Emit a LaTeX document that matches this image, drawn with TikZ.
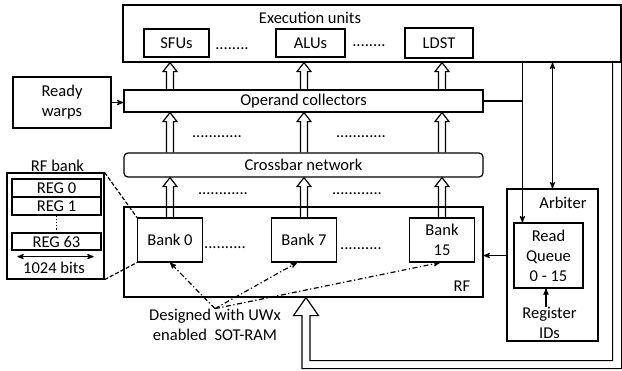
\documentclass[tikz,border=0pt]{standalone}
\usepackage{fontspec}
\setmainfont{Carlito}
\usetikzlibrary{positioning}
\usetikzlibrary{arrows}
\usetikzlibrary{calc}
\tikzset{>=stealth'}
\tikzset{blk/.style={draw, inner sep=0pt, align=center}}
\tikzset{lbl/.style={inner sep=0pt, align=center}}
\tikzset{dots/.style={inner sep=0pt, anchor=base}}
\tikzset{bnk/.style={blk, minimum width=65pt, minimum height=44pt}}
\tikzset{reg/.style={blk, minimum width=89pt, minimum height=18pt}}

% hollow upward arrow: #1 = base, #2 = tip
\newcommand{\fatup}[2]{%
  \draw ($(#1)+(-3.5,0)$) -- ($(#2)+(-3.5,9)$) -- ($(#2)+(-7,9)$) -- (#2)
    -- ($(#2)+(7,9)$) -- ($(#2)+(3.5,9)$) -- ($(#1)+(3.5,0)$);
}

\begin{document}
\begin{tikzpicture}[x=1pt, y=-1pt, on grid, line width=1.2pt, font=\fontsize{16.5}{20}\selectfont]
        \useasboundingbox (0,0) rectangle (622,370);

        \node[blk, minimum width=498pt, minimum height=57pt] (exec) at (372,33.5) {};
        \node[lbl, anchor=base] (exectitle) at (310,23) {Execution units};
        \node[blk, minimum width=65pt, minimum height=28pt] (sfu) at (176.5,43) {SFUs};
        \node[blk, minimum width=69pt, minimum height=28pt] (alu) at (310.5,43) {ALUs};
        \node[blk, minimum width=68pt, minimum height=30pt] (ldst) at (439,43) {LDST};
        \node[dots] (d1) at (232,49) {........};
        \node[dots] (d2) at (369,46) {........};

        \node[blk, minimum width=98pt, minimum height=51pt] (ready) at (62,102.5) {Ready\\warps};
        \node[blk, minimum width=359pt, minimum height=22pt] (oc) at (303.5,101) {Operand collectors};
        \node[dots] (d3) at (217,137) {............};
        \node[dots] (d4) at (361,137) {............};
        \node[blk, rounded corners=4pt, minimum width=359pt, minimum height=24pt] (xbar) at (303.5,165) {Crossbar network};
        \node[dots] (d5) at (223,194) {............};
        \node[dots] (d6) at (357,194) {............};

        \node[blk, minimum width=359pt, minimum height=90pt] (rf) at (303.5,252) {};
        \node[lbl, anchor=base] (rflbl) at (462,291) {RF};
        \node[bnk] (bank0) at (170,240) {Bank 0};
        \node[bnk, right=134pt of bank0] (bank7) {Bank 7};
        \node[bnk, right=138pt of bank7] (bank15) {Bank\\15};
        \node[dots] (d7) at (225,248) {..........};
        \node[dots] (d8) at (361,249) {..........};

        \node[blk, minimum width=91pt, minimum height=152pt] (arbiter) at (552.5,265) {};
        \node[lbl, anchor=base] (arblbl) at (563,208) {Arbiter};
        \node[blk, minimum width=69pt, minimum height=65pt] (rq) at (548.5,255.5) {Read\\Queue\\0 - 15};
        \node[lbl] (regids) at (549.5,323) {Register\\IDs};

        \node[blk, minimum width=97pt, minimum height=106pt] (rfbank) at (55.5,226) {};
        \node[lbl, anchor=base] (rfbanklbl) at (57.5,171) {RF bank};
        \node[reg] (reg0) at (56.5,188) {REG 0};
        \node[reg, below=18pt of reg0] (reg1) {REG 1};
        \node[reg, minimum height=17pt] (reg63) at (56.5,241.5) {REG 63};
        \node[lbl, anchor=base] (bits) at (54,273) {1024 bits};

        \node[lbl] (note) at (215,325) {Designed with UWx\\enabled~ SOT-RAM};

        % datapath
        \foreach \b in {bank0, bank7, bank15} {
          \fatup{\b |- oc.north}{\b |- exec.south}
          \fatup{\b |- xbar.north}{\b |- oc.south}
          \fatup{\b.north}{\b |- xbar.south}
        }

        % write back into the RF
        \coordinate (wbtip) at ([xshift=2pt]bank7 |- rf.south);
        \draw ($(exec.south east)+(-9,0)$) |- ($(wbtip)+(4,63)$) -- ($(wbtip)+(4,18)$)
          -- ($(wbtip)+(12.5,18)$) -- (wbtip) -- ($(wbtip)+(-12.5,18)$)
          -- ($(wbtip)+(-4,18)$) -- ($(wbtip)+(-4,71)$) -| (exec.south east);

        \draw [->] (ready.east) -- (oc.west |- ready.east);

        \coordinate (tap) at ([xshift=9pt]rq.north west);
        \draw [->] (tap |- exec.south) -- (tap);
        \draw (oc.east) -- (oc.east -| tap);
        \draw [<->] (arbiter.north |- exec.south) -- (arbiter.north);
        \draw [->] (arbiter.west |- rq) -- (rf.east |- rq);
        \draw [->] (regids.north -| 546,0) -- (rq.south -| 546,0);

        \draw [dotted] (reg1.south) -- (reg63.north);
        \draw [<->] ([xshift=6pt,yshift=-6pt]reg63.south west) -- ([xshift=-8pt,yshift=-6pt]reg63.south east);

        \draw [dash pattern=on 4pt off 2pt] (rfbank.north east) -- (bank0.north west);
        \draw [dash pattern=on 4pt off 2pt] (rfbank.south east) -- (bank0.south west);

        \draw [->, dash pattern=on 5pt off 2.5pt on 1.2pt off 2.5pt] (note.north) -- (bank0.south);
        \draw [->, dash pattern=on 5pt off 2.5pt on 1.2pt off 2.5pt] (note.north) -- ([xshift=-7pt]bank7.south);
        \draw [->, dash pattern=on 5pt off 2.5pt on 1.2pt off 2.5pt] (note.north) -- ([xshift=-2pt]bank15.south);
    \end{tikzpicture}
\end{document}
